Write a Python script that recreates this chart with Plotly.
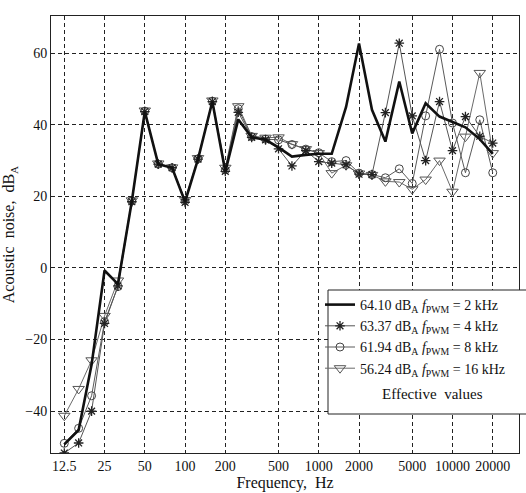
import plotly.graph_objects as go
import math

freqs = [12.5, 16, 20, 25, 31.5, 40, 50, 63, 80, 100, 125, 160, 200, 250, 315, 400,
         500, 630, 800, 1000, 1250, 1600, 2000, 2500, 3150, 4000, 5000, 6300, 8000,
         10000, 12500, 16000, 20000]

noise_2k = [-49.3, -45.3, -27.0, -0.7, -4.5, 18.7, 43.7, 29.0, 28.0, 18.5, 30.4, 46.5,
            26.9, 41.5, 36.5, 35.8, 33.7, 31.1, 31.6, 31.9, 31.9, 45.0, 62.7, 44.2,
            35.3, 52.1, 37.6, 46.0, 42.3, 40.9, 39.3, 36.0, 31.9]
noise_4k = [-51.7, -48.9, -40.0, -15.5, -5.0, 18.5, 43.7, 29.0, 28.0, 18.3, 30.4, 46.5,
            27.0, 43.5, 36.5, 35.8, 33.3, 28.5, 32.8, 29.7, 29.3, 28.8, 26.2, 26.1,
            43.4, 62.8, 42.5, 30.0, 46.5, 32.8, 42.3, 36.8, 34.9]
noise_8k = [-49.0, -44.8, -35.7, -15.0, -5.2, 18.7, 43.8, 29.0, 28.0, 18.7, 30.5, 46.6,
            27.4, 44.5, 36.7, 36.0, 35.8, 34.5, 33.2, 32.2, 29.7, 30.0, 26.5, 26.1,
            25.2, 27.7, 23.6, 42.5, 61.1, 40.5, 26.6, 41.4, 26.6]
noise_16k = [-41.3, -33.8, -25.8, -13.4, -3.5, 18.9, 44.0, 29.2, 28.1, 19.0, 30.7, 46.8,
             28.0, 45.2, 36.9, 36.4, 36.5, 34.6, 33.2, 32.1, 26.5, 28.7, 26.4, 26.0,
             24.2, 24.0, 22.0, 24.7, 30.0, 21.3, 36.7, 54.5, 32.1]

names = ["64.10 dB<sub>A</sub> <i>f</i><sub>PWM</sub> = 2 kHz",
         "63.37 dB<sub>A</sub> <i>f</i><sub>PWM</sub> = 4 kHz",
         "61.94 dB<sub>A</sub> <i>f</i><sub>PWM</sub> = 8 kHz",
         "56.24 dB<sub>A</sub> <i>f</i><sub>PWM</sub> = 16 kHz"]

xtick_vals = [12.5, 25, 50, 100, 200, 500, 1000, 2000, 5000, 10000, 20000]
xtick_text = ["12.5", "25", "50", "100", "200", "500", "1000", "2000", "5000", "10000", "20000"]
ytick_vals = [-40, -20, 0, 20, 40, 60]
ytick_text = ["\u221240", "\u221220", "0", "20", "40", "60"]

FONT = "Liberation Serif, Times New Roman, serif"

fig = go.Figure()

fig.add_trace(go.Scatter(
    x=freqs, y=noise_16k, name=names[3], mode="lines+markers", legendrank=4,
    line=dict(color="#6a6a6a", width=1),
    marker=dict(symbol="triangle-down-open", size=10, color="#555555",
                line=dict(width=1, color="#555555"))))
fig.add_trace(go.Scatter(
    x=freqs, y=noise_8k, name=names[2], mode="lines+markers", legendrank=3,
    line=dict(color="#5a5a5a", width=1),
    marker=dict(symbol="circle-open", size=8, color="#444444",
                line=dict(width=1, color="#444444"))))
fig.add_trace(go.Scatter(
    x=freqs, y=noise_4k, name=names[1], mode="lines+markers", legendrank=2,
    line=dict(color="#555555", width=1),
    marker=dict(symbol="asterisk-open", size=8, color="#222222",
                line=dict(width=1.3, color="#222222"))))
fig.add_trace(go.Scatter(
    x=freqs, y=noise_2k, name=names[0], mode="lines", legendrank=1,
    line=dict(color="#111111", width=2.6)))

W, H = 526, 493
ml, mr, mt, mb = 51, 7, 16, 40
pw, ph = W - ml - mr, H - mt - mb

def px_x(p):
    return (p - ml) / pw

def px_y(p):
    return 1 - (p - mt) / ph

lo = math.log10(12.5) - 13.3 / 133.7
fig.update_layout(
    width=W, height=H,
    margin=dict(l=ml, r=mr, t=mt, b=mb, autoexpand=False),
    paper_bgcolor="white", plot_bgcolor="white",
    font=dict(family=FONT, size=14, color="#111111"),
    showlegend=True,
    legend=dict(x=px_x(320), y=px_y(289), xanchor="left", yanchor="top",
                bgcolor="rgba(0,0,0,0)", borderwidth=0,
                font=dict(family=FONT, size=14, color="#111111"),
                itemwidth=30, tracegroupgap=0),
    xaxis=dict(type="log", range=[lo, lo + 3.5], automargin=False,
               tickvals=xtick_vals, ticktext=xtick_text, ticks="",
               showgrid=True, gridcolor="#222222", gridwidth=1, griddash="4px,3px",
               showline=True, linecolor="#222222", linewidth=1, mirror=True,
               zeroline=False,
               title=dict(text="Frequency,  Hz", font=dict(family=FONT, size=16), standoff=2),
               tickfont=dict(family=FONT, size=14)),
    yaxis=dict(range=[-51.7, 70.4], automargin=False,
               tickvals=ytick_vals, ticktext=ytick_text, ticks="",
               showgrid=True, gridcolor="#222222", gridwidth=1, griddash="4px,3px",
               showline=True, linecolor="#222222", linewidth=1, mirror=True,
               zeroline=False,
               title=dict(text="Acoustic  noise,  dB<sub>A</sub>", font=dict(family=FONT, size=16), standoff=6),
               tickfont=dict(family=FONT, size=14)),
    shapes=[dict(type="rect", xref="paper", yref="paper",
                 x0=px_x(328), x1=px_x(540), y0=px_y(414), y1=px_y(290),
                 fillcolor="white", line=dict(color="#222222", width=1), layer="above")],
    annotations=[dict(text="Effective  values", xref="paper", yref="paper",
                      x=px_x(432), y=px_y(394), xanchor="center", yanchor="middle",
                      showarrow=False,
                      font=dict(family=FONT, size=15, color="#111111"))],
)

fig.write_html("out.html", config={"displayModeBar": False},
               post_script="document.body.style.margin='0';document.body.style.padding='0';")
